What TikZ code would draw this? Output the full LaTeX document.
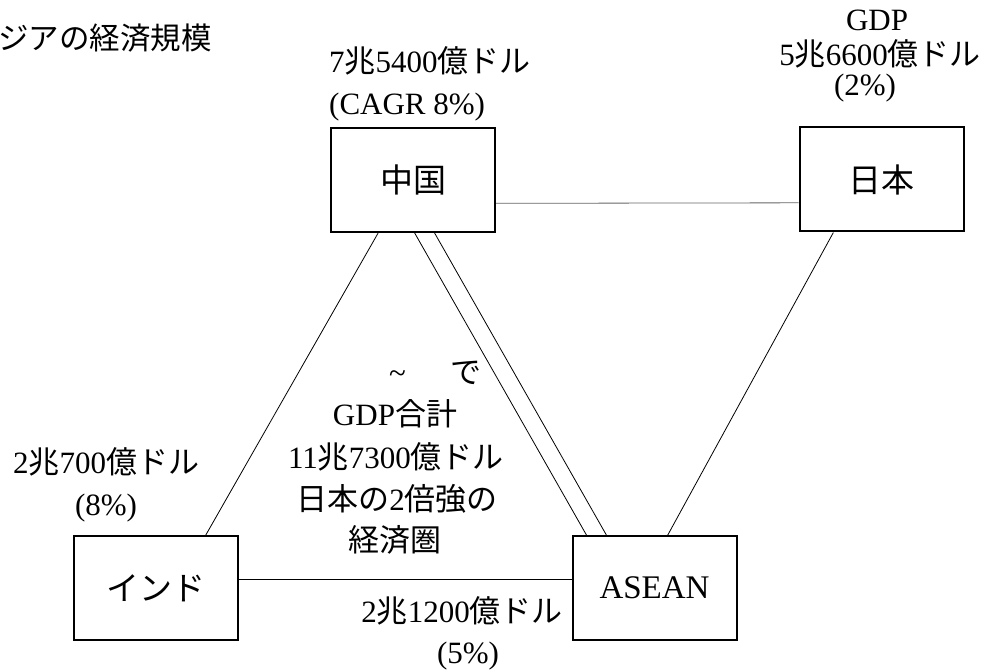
\documentclass[tikz,border=0pt]{standalone}
\usepackage{fontspec}
\setmainfont{Liberation Serif}
\newfontfamily\jpf{Noto Sans CJK JP}
\newcommand\J[1]{{\jpf #1}}
\usetikzlibrary{calc}
\begin{document}
\begin{tikzpicture}[x=1pt,y=-1pt,
  box/.style={draw, line width=2pt, minimum width=164pt, minimum height=104pt, inner sep=0pt, font=\fontsize{33}{40}\selectfont},
  lbl/.style={inner sep=0pt, font=\fontsize{31}{38}\selectfont},
  conn/.style={line width=0.8pt, black},
  connb/.style={line width=0.8pt, black!60}]
\fill[white] (0,0) rectangle (996,671);
\useasboundingbox (0,0) rectangle (996,671);

% title
\node[lbl, anchor=base west, font=\fontsize{30.5}{36}\selectfont] (title) at (-2,50) {\J{ジアの経済規模}};

% boxes
\node[box] (cn) at (413,180) {\J{中国}};
\node[box] (jp) at (881.5,179.5) {\J{日本}};
\node[box] (in) at (156,588) {\J{インド}};
\node[box] (as) at (654.5,588) {ASEAN};

% connectors
\draw[connb] ($(cn.north east)!0.72!(cn.south east)$) -- ($(jp.north west)!0.72!(jp.south west)$);
\draw[conn] ($(in.north east)!0.42!(in.south east)$) -- ($(as.north west)!0.42!(as.south west)$);
\draw[conn] ($(cn.south west)!0.29!(cn.south east)$) -- ($(in.north west)!0.80!(in.north east)$);
\draw[conn] ($(cn.south west)!0.51!(cn.south east)$) -- ($(as.north west)!0.09!(as.north east)$);
\draw[conn] ($(cn.south west)!0.63!(cn.south east)$) -- ($(as.north west)!0.21!(as.north east)$);
\draw[conn] ($(jp.south west)!0.21!(jp.south east)$) -- ($(as.north west)!0.58!(as.north east)$);

% China label
\node[lbl, anchor=base west] (cn1) at (329,73) {7\J{兆}5400\J{億ドル}};
\node[lbl, anchor=base west] (cn2) at (329,115) {(CAGR 8\%)};

% Japan label
\node[lbl, anchor=base] (jp1) at (877,31) {GDP};
\node[lbl, anchor=base] (jp2) at (880,66) {5\J{兆}6600\J{億ドル}};
\node[lbl, anchor=base] (jp3) at (865,96) {(2\%)};

% India label
\node[lbl, anchor=base] (in1) at (106,473) {2\J{兆}700\J{億ドル}};
\node[lbl, anchor=base] (in2) at (106,515) {(8\%)};

% ASEAN label
\node[lbl, anchor=base] (as1) at (462,622) {2\J{兆}1200\J{億ドル}};
\node[lbl, anchor=base] (as2) at (468,663) {(5\%)};

% center block
\node[lbl, anchor=base west] (c0) at (389,383) {\textasciitilde\hspace{45pt}\J{で}};
\node[lbl, anchor=base] (c1) at (395,425) {GDP\J{合計}};
\node[lbl, anchor=base] (c2) at (396,468) {11\J{兆}7300\J{億ドル}};
\node[lbl, anchor=base] (c3) at (397,510) {\J{日本の}2\J{倍強の}};
\node[lbl, anchor=base] (c4) at (395,551) {\J{経済圏}};
\end{tikzpicture}
\end{document}
